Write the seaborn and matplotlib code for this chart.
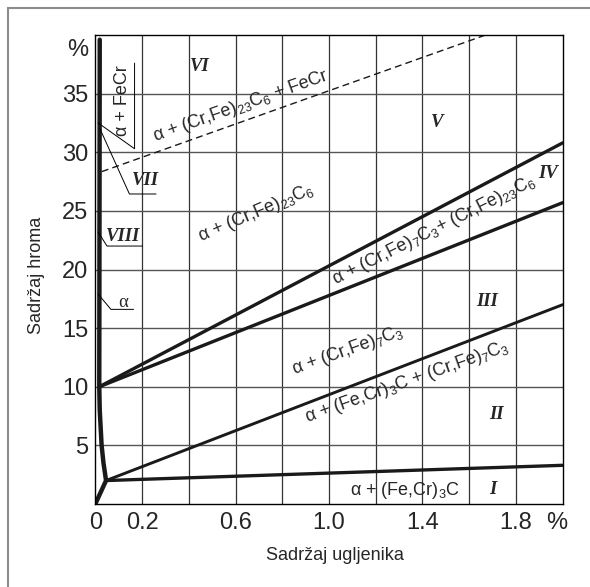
import numpy as np
import pandas as pd
import matplotlib
matplotlib.use("Agg")
import matplotlib.pyplot as plt
import seaborn as sns

# granice faza (sadrzaj C %, sadrzaj Cr %)
alfa_x = [0.0, 0.046, 0.035, 0.027, 0.019, 0.017, 0.019]
alfa_y = [0.0, 2.0, 3.5, 5.0, 8.0, 10.0, 39.6]
g1_x = [0.046, 2.0]
g1_y = [2.0, 3.3]
g2_x = [0.046, 2.0]
g2_y = [2.0, 17.0]
g3_x = [0.017, 2.0]
g3_y = [10.0, 25.7]
g4_x = [0.017, 2.0]
g4_y = [10.0, 30.8]
crt_x = [0.028, 1.67]
crt_y = [28.35, 40.0]

x_ticks = [0, 0.2, 0.6, 1.0, 1.4, 1.8, 1.975]
x_labels = ['0', '0.2', '0.6', '1.0', '1.4', '1.8', '%']
y_ticks = [5, 10, 15, 20, 25, 30, 35, 38.9]
y_labels = ['5', '10', '15', '20', '25', '30', '35', '%']

# oznake oblasti
rim = ['VI', 'V', 'IV', 'III', 'II', 'I', 'VII', 'VIII']
rim_x = [0.449, 1.461, 1.938, 1.675, 1.717, 1.70, 0.213, 0.12]
rim_y = [37.3, 32.5, 28.2, 17.25, 7.6, 1.25, 27.6, 22.8]

faze = ['α + (Cr,Fe)$_{23}$C$_6$ + FeCr',
        'α + (Cr,Fe)$_{23}$C$_6$',
        'α + (Cr,Fe)$_7$C$_3$+ (Cr,Fe)$_{23}$C$_6$',
        'α + (Cr,Fe)$_7$C$_3$',
        'α + (Fe,Cr)$_3$C + (Cr,Fe)$_7$C$_3$']
faze_x = [0.623, 0.689, 1.45, 1.08, 1.332]
faze_y = [33.9, 24.8, 23.3, 13.05, 10.36]
faze_rot = [19.5, 23, 26.5, 19.5, 19.5]

sns.set_style("white")
plt.rcParams['font.family'] = ['Liberation Sans', 'DejaVu Sans']
plt.rcParams['mathtext.default'] = 'regular'

fig = plt.figure(figsize=(5.9, 5.87), dpi=100)
ax = fig.add_axes([95.3 / 590, 1 - 504 / 587, 467.4 / 590, 469 / 587])

# okvir slike
fig.add_artist(plt.Rectangle((8 / 590, -0.1), 1.2, 1.1 - 8 / 587, transform=fig.transFigure,
                             fill=False, edgecolor='#8c8c8c', lw=1.5))

for gx in np.arange(0.2, 2.0, 0.2):
    ax.axvline(gx, color='#333333', lw=0.9, zorder=1)
for gy in range(5, 40, 5):
    ax.axhline(gy, color='#555555', lw=1.0, zorder=1)

crn = '#1a1a1a'
sns.lineplot(x=alfa_x, y=alfa_y, sort=False, estimator=None, color=crn, lw=3.2, ax=ax)
sns.lineplot(x=g1_x, y=g1_y, sort=False, estimator=None, color=crn, lw=2.4, ax=ax)
sns.lineplot(x=g2_x, y=g2_y, sort=False, estimator=None, color=crn, lw=2.1, ax=ax)
sns.lineplot(x=g3_x, y=g3_y, sort=False, estimator=None, color=crn, lw=2.4, ax=ax)
sns.lineplot(x=g4_x, y=g4_y, sort=False, estimator=None, color=crn, lw=2.4, ax=ax)
ax.plot(crt_x, crt_y, color=crn, lw=1.0, dashes=(5, 3))

# pokazne linije
ax.plot([0.012, 0.168, 0.168], [32.5, 30.3, 37.6], color='k', lw=0.7)
ax.plot([0.02, 0.146, 0.26], [32.0, 26.44, 26.44], color='k', lw=0.7)
ax.plot([0.012, 0.05, 0.202], [23.2, 22.0, 22.0], color='k', lw=0.7)
ax.plot([0.012, 0.067, 0.164], [17.9, 16.6, 16.6], color='k', lw=0.7)

for t, x, y in zip(rim, rim_x, rim_y):
    ax.text(x, y, t, ha='center', va='center', fontsize=13.5, fontweight='bold',
            fontstyle='italic', family='Liberation Serif')
ax.text(0.12, 17.2, 'α', ha='center', va='center', fontsize=13.5, family='Liberation Serif')
ax.text(0.117, 34.4, 'α + FeCr', rotation=90, ha='center', va='center', fontsize=13)

for t, x, y, r in zip(faze, faze_x, faze_y, faze_rot):
    ax.text(x, y, t, rotation=r, rotation_mode='anchor', ha='center', va='center', fontsize=13)
ax.text(1.324, 0.77, 'α + (Fe,Cr)$_3$C', ha='center', va='baseline', fontsize=13)

ax.set_xlim(0, 2.0)
ax.set_ylim(0, 40)
ax.set_xticks(x_ticks)
ax.set_xticklabels(x_labels)
ax.set_yticks(y_ticks)
ax.set_yticklabels(y_labels)
ax.tick_params(axis='both', length=0, labelsize=17)
ax.tick_params(axis='x', pad=6)
ax.tick_params(axis='y', pad=5)
for s in ax.spines.values():
    s.set_color('k')
    s.set_linewidth(1.0)

ax.set_xlabel('Sadržaj ugljenika', fontsize=13)
ax.set_ylabel('Sadržaj hroma', fontsize=13)
ax.xaxis.set_label_coords(0.512, -0.091)
ax.yaxis.set_label_coords(-0.108, 0.488)

fig.savefig('out.png', dpi=100)
